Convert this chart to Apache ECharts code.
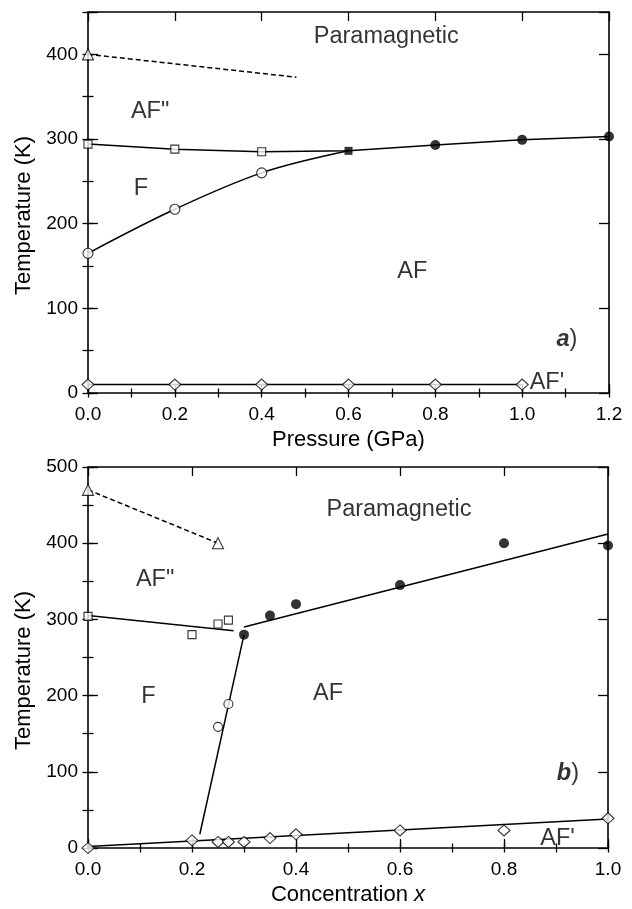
<!DOCTYPE html>
<html>
<head>
<meta charset="utf-8">
<script src="https://cdn.jsdelivr.net/npm/echarts@6/dist/echarts.min.js"></script>
<style>
  html, body { margin: 0; padding: 0; background: #fff; }
  #chart { width: 632px; height: 909px; }
</style>
</head>
<body>
<div id="chart"></div>
<script>
// ---- Panel a: transition temperatures versus pressure ----
const pressureRange = [0, 1.2];
const tempRangeA = [0, 450];
const triangleA = [[0, 400]];
const dashedA = [[0, 400], [0.48, 373]];
const squaresA = [[0, 294], [0.2, 288], [0.4, 285]];
const meetA = [[0.6, 286]];
const filledA = [[0.8, 293], [1.0, 299], [1.2, 303]];
const openA = [[0, 165], [0.2, 217], [0.4, 260]];
const diamondsA = [[0, 10], [0.2, 10], [0.4, 10], [0.6, 10], [0.8, 10], [1.0, 10]];
const regionsA = [
  ['Paramagnetic', 0.687, 421],
  ['AF"', 0.143, 332],
  ['F', 0.122, 242],
  ['AF', 0.747, 144],
  ['{b|a})', 1.103, 63],
  ["AF'", 1.057, 12]
];

// ---- Panel b: transition temperatures versus concentration x ----
const concRange = [0, 1.0];
const tempRangeB = [0, 500];
const trianglesB = [[0, 470], [0.25, 400]];
const squaresB = [[0, 304], [0.2, 280], [0.25, 294], [0.27, 299]];
const openB = [[0.25, 159], [0.27, 189]];
const filledB = [[0.3, 280], [0.35, 305], [0.4, 320], [0.6, 345], [0.8, 400], [1.0, 397]];
const diamondsB = [[0, 0], [0.2, 10], [0.25, 8], [0.27, 8], [0.3, 8], [0.35, 13], [0.4, 18], [0.6, 23], [0.8, 23], [1.0, 39]];
// phase boundaries (straight guides)
const dashedB = [[0, 470], [0.25, 400]];
const boundarySqB = [[0, 305], [0.28, 285]];
const boundaryAFB = [[0.30, 290], [1.0, 412]];
const boundaryFB = [[0.215, 18], [0.30, 280]];
const boundaryDiaB = [[0, 2], [1.0, 38]];
const regionsB = [
  ['Paramagnetic', 0.598, 444],
  ['AF"', 0.129, 352],
  ['F', 0.116, 199],
  ['AF', 0.4615, 203],
  ['{b|b})', 0.923, 98],
  ["AF'", 0.903, 12]
];

// tick steps
const xStepA = 0.2, xStepB = 0.2, yStep = 100;

const FONT = '"Liberation Sans", Arial, Helvetica, sans-serif';
const BLACK = '#000';

const panels = [
  { rect: { left: 88, top: 12, width: 521, height: 381 }, x: pressureRange, xStep: xStepA, y: tempRangeA,
    xName: 'Pressure (GPa)' },
  { rect: { left: 88, top: 467, width: 520, height: 381 }, x: concRange, xStep: xStepB, y: tempRangeB,
    xName: '{n|Concentration }{i|x}' }
];

const grids = [], xAxes = [], yAxes = [];
panels.forEach((p, i) => {
  // main grid with major ticks, overlay grid with minor ticks
  grids.push(Object.assign({}, p.rect), Object.assign({}, p.rect));
  const gMain = 2 * i, gMinor = 2 * i + 1;
  const line = { show: true, onZero: false, lineStyle: { color: BLACK, width: 1.6 } };
  const major = { inside: true, length: 9, lineStyle: { color: BLACK, width: 1.3 } };
  const minor = { inside: true, length: 4.5, lineStyle: { color: BLACK, width: 1.3 } };
  const nameStyle = { color: BLACK, fontSize: 22, fontFamily: FONT,
    rich: { n: { fontSize: 22, fontFamily: FONT, color: BLACK },
            i: { fontSize: 22, fontFamily: FONT, color: BLACK, fontStyle: 'italic' } } };
  const baseX = { type: 'value', min: p.x[0], max: p.x[1], splitLine: { show: false } };
  const baseY = { type: 'value', min: p.y[0], max: p.y[1], splitLine: { show: false } };
  xAxes.push(
    Object.assign({}, baseX, { gridIndex: gMain, position: 'bottom', interval: p.xStep,
      axisLine: line, axisTick: major,
      axisLabel: { color: BLACK, fontSize: 19, fontFamily: FONT, margin: 12,
        formatter: v => v.toFixed(1) },
      name: p.xName, nameLocation: 'middle', nameGap: 36, nameTextStyle: nameStyle }),
    Object.assign({}, baseX, { gridIndex: gMain, position: 'top', interval: p.xStep,
      axisLine: line, axisTick: major, axisLabel: { show: false } }),
    Object.assign({}, baseX, { gridIndex: gMinor, position: 'bottom', interval: p.xStep / 2,
      axisLine: { show: false }, axisTick: minor, axisLabel: { show: false } }),
    Object.assign({}, baseX, { gridIndex: gMinor, position: 'top', interval: p.xStep / 2,
      axisLine: { show: false }, axisTick: minor, axisLabel: { show: false } })
  );
  yAxes.push(
    Object.assign({}, baseY, { gridIndex: gMain, position: 'left', interval: yStep,
      axisLine: line, axisTick: Object.assign({}, major, { length: 10 }),
      axisLabel: { color: BLACK, fontSize: 19, fontFamily: FONT, margin: 10,
        formatter: v => (v % yStep === 0 ? String(v) : '') },
      name: 'Temperature (K)', nameLocation: 'middle', nameGap: 51,
      nameTextStyle: Object.assign({}, nameStyle, { padding: [0, 26, 0, 0] }) }),
    Object.assign({}, baseY, { gridIndex: gMain, position: 'right', interval: yStep,
      axisLine: line, axisTick: Object.assign({}, major, { length: 10 }), axisLabel: { show: false } }),
    Object.assign({}, baseY, { gridIndex: gMinor, position: 'left', interval: yStep / 2,
      axisLine: { show: false }, axisTick: Object.assign({}, minor, { length: 5.5 }), axisLabel: { show: false } }),
    Object.assign({}, baseY, { gridIndex: gMinor, position: 'right', interval: yStep / 2,
      axisLine: { show: false }, axisTick: Object.assign({}, minor, { length: 5.5 }), axisLabel: { show: false } })
  );
});

const hollow = { color: '#fff', borderColor: BLACK, borderWidth: 1.1 };
const solid = { color: BLACK, borderColor: BLACK, borderWidth: 0 };

function guide(panel, data, opts) {
  return Object.assign({
    type: 'line', xAxisIndex: 4 * panel, yAxisIndex: 4 * panel, data: data,
    symbol: 'none', clip: false, z: 3, silent: true,
    lineStyle: { color: BLACK, width: 1.5 }
  }, opts || {});
}
function marks(panel, data, symbol, size, style) {
  return {
    type: 'scatter', xAxisIndex: 4 * panel, yAxisIndex: 4 * panel, data: data,
    symbol: symbol, symbolSize: size, itemStyle: style, clip: false, z: 5, silent: true
  };
}
function regionText(panel, list) {
  return {
    type: 'scatter', xAxisIndex: 4 * panel, yAxisIndex: 4 * panel, z: 6, silent: true,
    symbolSize: 1, itemStyle: { color: 'rgba(0,0,0,0)' }, clip: false,
    data: list.map(r => ({ name: r[0], value: [r[1], r[2]] })),
    label: {
      show: true, position: 'inside', formatter: d => d.name,
      color: BLACK, fontSize: 23.5, fontFamily: FONT,
      rich: { b: { fontSize: 23.5, fontFamily: FONT, color: BLACK, fontWeight: 'bold', fontStyle: 'italic' } }
    }
  };
}

const series = [
  // panel a
  guide(0, dashedA, { lineStyle: { color: BLACK, width: 1.5, type: [5, 3] } }),
  guide(0, squaresA.concat(meetA, filledA)),
  guide(0, openA.concat(meetA), { smooth: 0.35 }),
  guide(0, diamondsA),
  marks(0, triangleA, 'triangle', 11, hollow),
  marks(0, squaresA, 'rect', 8, hollow),
  marks(0, meetA, 'rect', 8, solid),
  marks(0, filledA, 'circle', 10, solid),
  marks(0, openA, 'circle', 10, hollow),
  marks(0, diamondsA, 'diamond', [12, 11], hollow),
  regionText(0, regionsA),
  // panel b
  guide(1, dashedB, { lineStyle: { color: BLACK, width: 1.5, type: [5, 3] } }),
  guide(1, boundarySqB),
  guide(1, boundaryAFB),
  guide(1, boundaryFB),
  guide(1, boundaryDiaB),
  marks(1, trianglesB, 'triangle', 11, hollow),
  marks(1, squaresB, 'rect', 8, hollow),
  marks(1, openB, 'circle', 9, hollow),
  marks(1, filledB, 'circle', 10, solid),
  marks(1, diamondsB, 'diamond', [12, 11], hollow),
  regionText(1, regionsB)
];

const chart = echarts.init(document.getElementById('chart'), null, { renderer: 'canvas' });
chart.setOption({
  backgroundColor: '#fff',
  animation: false,
  grid: grids,
  xAxis: xAxes,
  yAxis: yAxes,
  series: series
});
</script>
</body>
</html>
